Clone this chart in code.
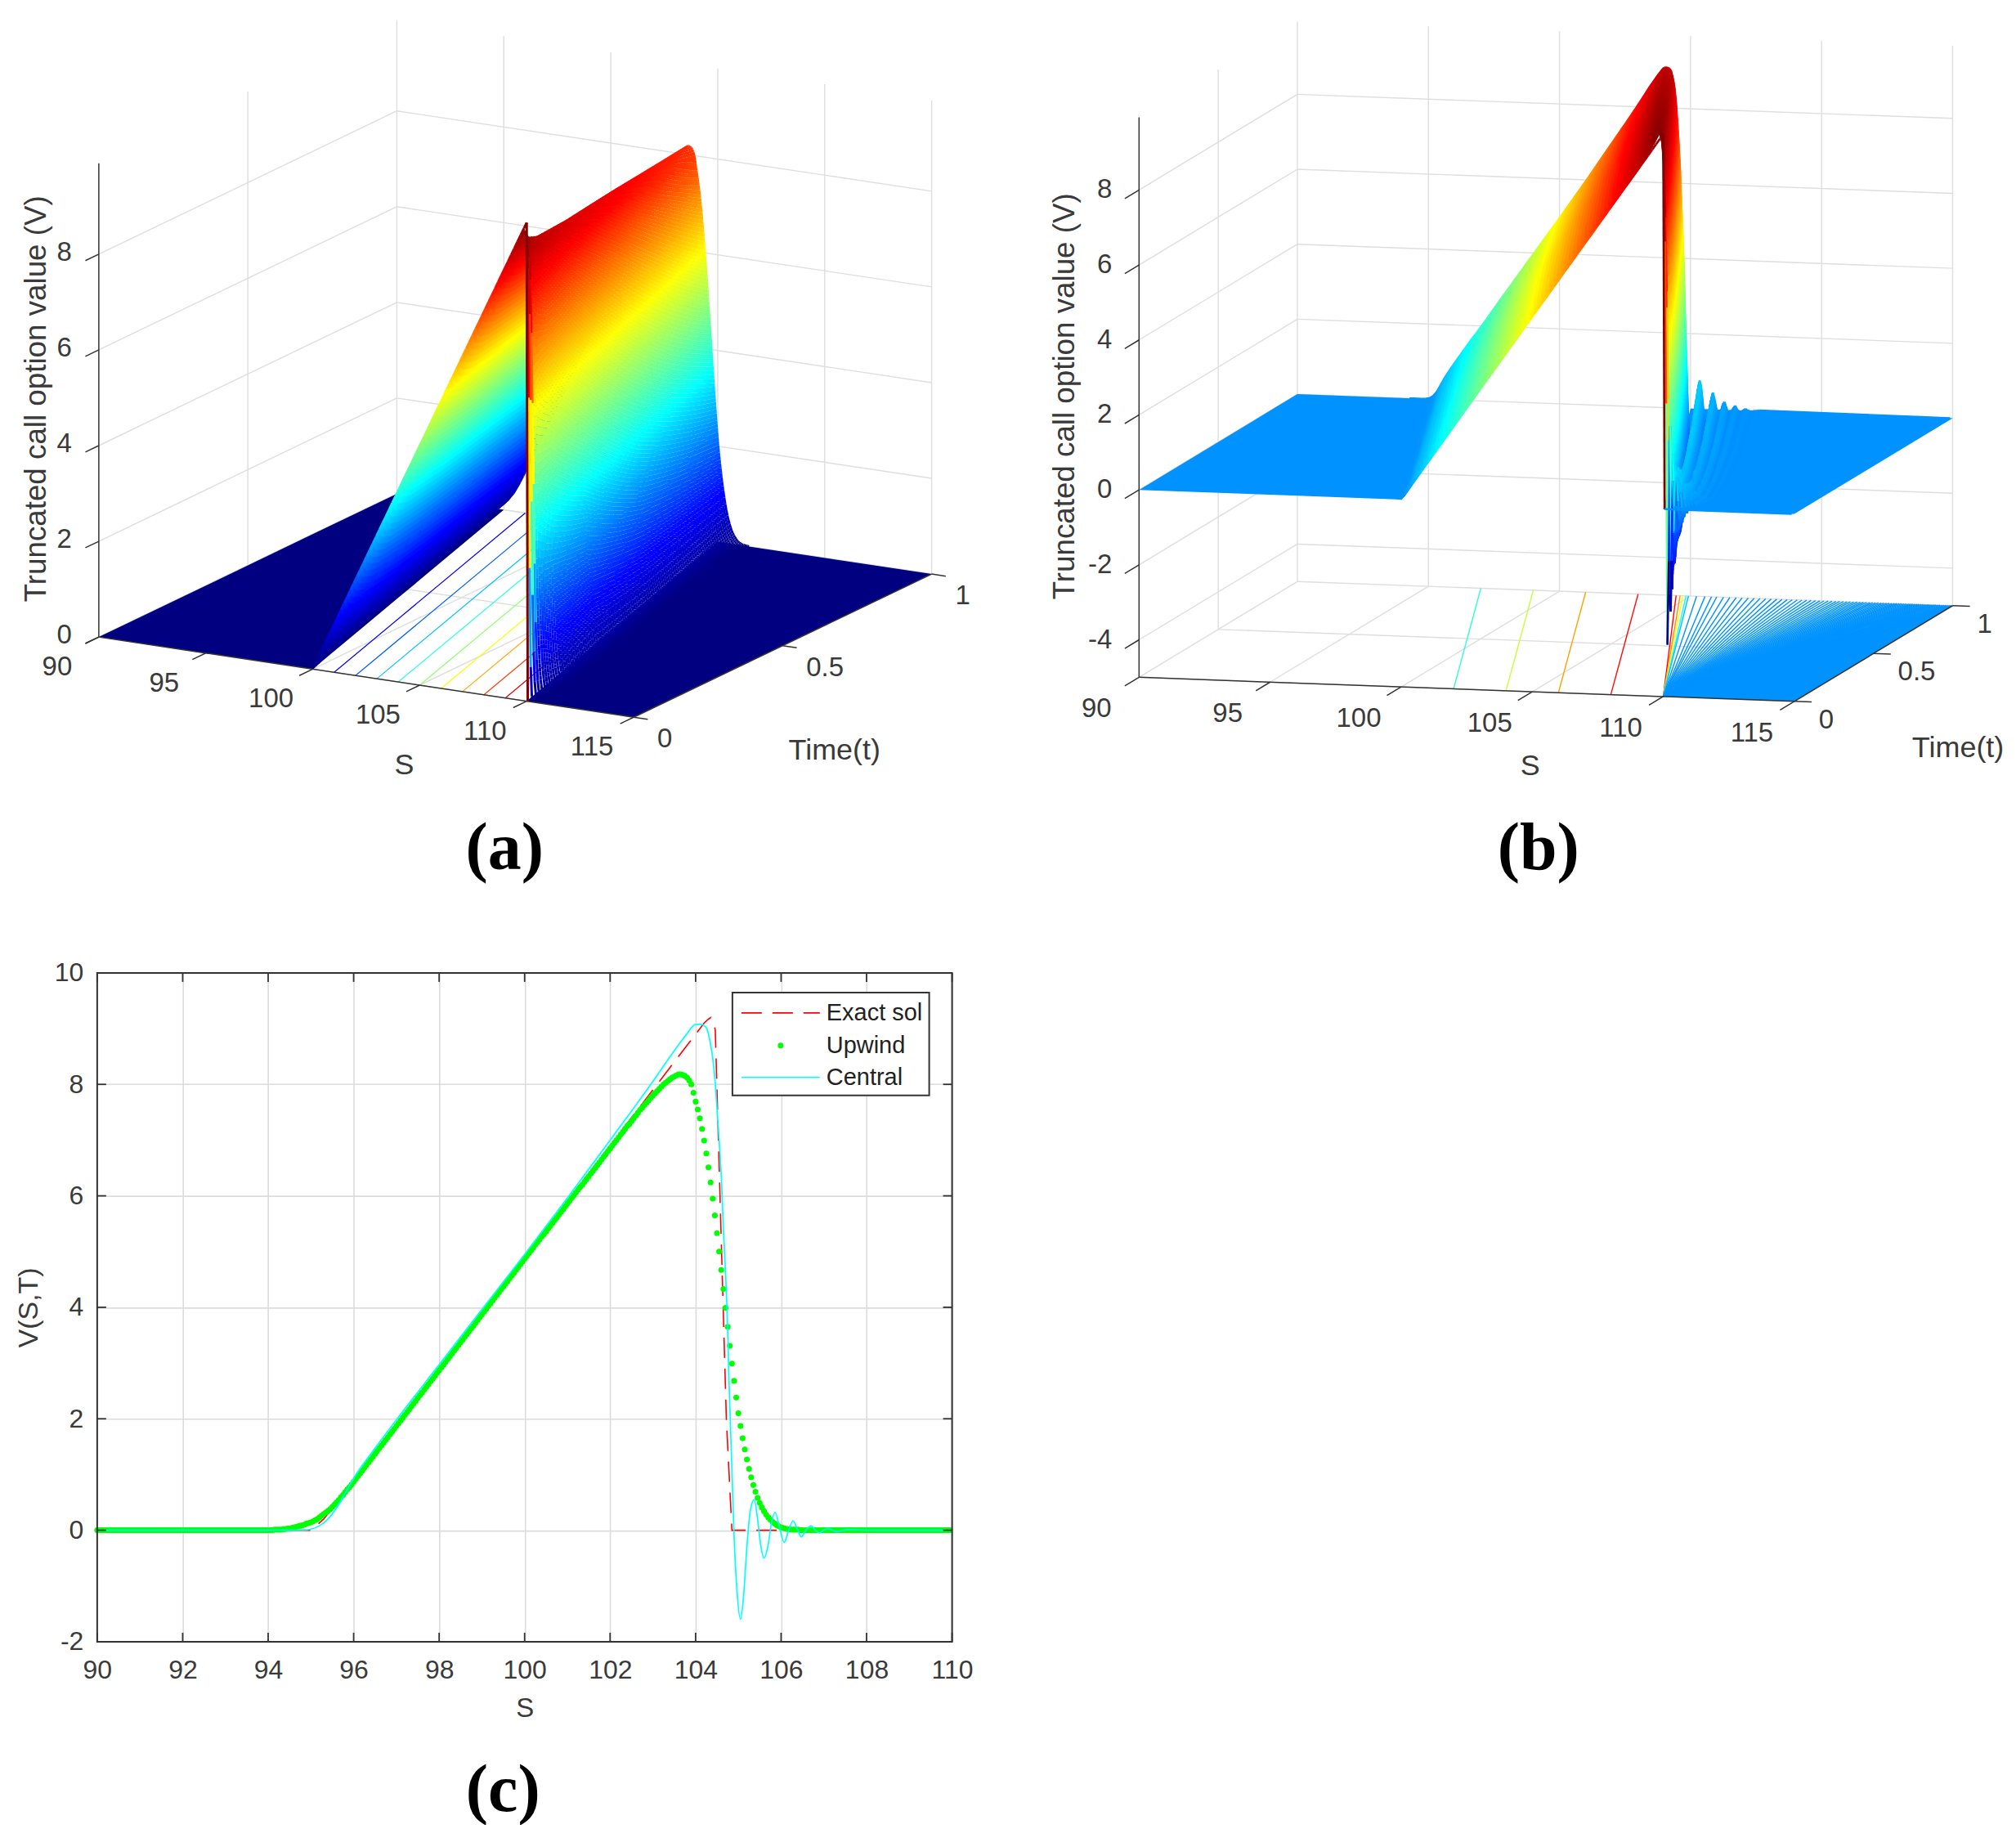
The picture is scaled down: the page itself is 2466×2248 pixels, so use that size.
import numpy as np, pandas as pd, altair as alt
alt.data_transformers.disable_max_rows()

# ---------- panel (c) curves ----------
UPWIND_S_START, UPWIND_S_STEP = 90.0, 0.05
UPWIND_V = [0.0]*80 + [
 .00,.00,.00,.01,.01,.01,.01,.02,.02,.03, .03,.04,.05,.06,.07,.08,.09,.10,.12,.13,
 .14,.16,.18,.20,.23,.26,.29,.32,.35,.38, .42,.46,.50,.54,.59,.63,.68,.73,.77,.82,
 .87,.92,.97,1.02,1.07,1.12,1.17,1.22,1.27,1.32, 1.37,1.42,1.47,1.52,1.57,1.62,1.67,1.72,1.77,1.82,
 1.87,1.92,1.97,2.02,2.07,2.12,2.17,2.22,2.27,2.32, 2.37,2.42,2.47,2.52,2.57,2.62,2.67,2.72,2.77,2.82,
 2.87,2.92,2.97,3.02,3.07,3.12,3.17,3.22,3.27,3.32, 3.37,3.42,3.47,3.52,3.57,3.62,3.67,3.72,3.77,3.82,
 3.87,3.92,3.97,4.02,4.07,4.12,4.17,4.22,4.27,4.32, 4.37,4.42,4.47,4.52,4.57,4.62,4.67,4.72,4.77,4.82,
 4.87,4.92,4.97,5.02,5.07,5.12,5.17,5.22,5.27,5.31, 5.36,5.41,5.46,5.51,5.56,5.61,5.66,5.71,5.76,5.81,
 5.86,5.91,5.96,6.01,6.06,6.11,6.16,6.20,6.25,6.30, 6.35,6.40,6.45,6.50,6.55,6.60,6.65,6.70,6.75,6.80,
 6.85,6.90,6.95,7.00,7.05,7.10,7.15,7.20,7.25,7.29, 7.34,7.39,7.44,7.49,7.54,7.58,7.63,7.67,7.71,7.76,
 7.80,7.84,7.88,7.92,7.96,8.00,8.03,8.06,8.09,8.12, 8.14,8.16,8.18,8.18,8.17,8.15,8.12,8.07,8.00,7.85,
 7.69,7.55,7.39,7.20,6.99,6.76,6.51,6.24,5.95,5.65, 5.33,5.00,4.67,4.33,3.99,3.65,3.31,2.99,2.68,2.38,
 2.10,1.87,1.65,1.45,1.27,1.10,.95,.81,.69,.58, .49,.41,.34,.28,.23,.19,.15,.12,.09,.07,
 .05,.04,.03,.02,.02,.01,.01,.01,.01,.00] + [0.0]*70
CENTRAL_S = [90,94.8,95.0,95.2,95.4,95.6,95.8,96,96.5,97,98,99,100,101,102,102.5,103,103.44,103.79,103.98,104.11,104.24,104.33,104.4,104.46,104.52,104.57,104.61,104.65,104.7,104.75,104.78,104.81,104.87,104.9,104.97,105.05,105.12,105.2,105.28,105.37,105.45,105.52,105.6,105.7,105.78,105.86,105.95,106.07,106.17,106.28,106.38,106.47,106.58,106.7,106.8,106.9,107.0,107.1,107.2,107.3,107.45,107.6,108,110]
CENTRAL_V = [0,0,.02,.08,.2,.4,.66,.93,1.47,1.98,2.97,3.96,4.95,5.96,7.0,7.52,8.05,8.54,8.9,9.07,9.08,9.03,8.8,8.48,8.02,7.34,6.77,6.2,5.41,4.63,3.6,2.7,2.0,.6,-.1,-1.1,-1.6,-1.2,-.3,.35,.55,.2,-.25,-.5,-.25,.15,.32,.1,-.22,-.02,.17,.02,-.12,0,.08,0,-.05,0,.03,0,-.02,0,.01,0,0]
EXACT_S = [90,95.0,95.3,104.2,104.3,104.36,104.42,104.46,104.72,104.85,105,110]
EXACT_V = [0,0,.2,9.1,9.17,9.2,9.1,8.98,1.98,0,0,0]
XTICKS_C = [90,92,94,96,98,100,102,104,106,108,110]
YTICKS_C = [-2,0,2,4,6,8,10]

# ---------- how the smoothing of the surfaces changes with time, estimated by eye ----------
T_TAB = [0,.01,.02,.05,.12,.3,.58,1]
WIDTH_A = [0,.1,.17,.3,.47,.62,.75,1]
WIDTH_B = [0,.25,.35,.5,.65,.78,.9,1]
AMP_B = [2.8,2.8,2.0,1.2,.8,.8,.9,1]
CORNER_X_T0, CORNER_X_T1 = 10.0, 9.36
CORNER_V_T0, CORNER_V_T1 = 10.0, 9.2
# floor traces in the picture
LINES_A_S0 = [101,102,103,104,105,106,107,108,109]
LINES_B_S0 = [102,104,106,108]
FAN_END_S = [104.45,104.6,104.7,104.83,104.92,105.23,105.55,105.8,106.0,106.26,106.5,106.74,106.97,107.2,107.43,107.65,107.87,108.08,108.29,108.49,108.69,108.88,109.07,109.25,109.43,109.6,109.77,109.93,110.09,110.25,110.4,110.55,110.69,110.83,110.97,111.1,111.23,111.36,111.48,111.6,111.72,111.84,111.95,112.06,112.17,112.28,112.38,112.48,112.58,112.68,112.78,112.87,112.96,113.05,113.14,113.23,113.32,113.4,113.48,113.56,113.64,113.72,113.8,113.88,113.96,114.04,114.12,114.2,114.28,114.36,114.44,114.52,114.6,114.68,114.76,114.84,114.92,115]
FAN_V = [8.1,6.3,4.6,1.6,.6]
Z_A = [0,2,4,6,8]
Z_B = [-4,-2,0,2,4,6,8]
S_TICKS = [90,95,100,105,110,115]
T_TICKS = [0,.5,1]

FONT = 'Liberation Sans'
TXT = '#3a3a3a'
GRID = '#dedede'
DARK = '#333333'

class View:
    def __init__(s, ox, oy, sx, sy, tx, ty, vz, vmin, vtop, vcmin, vcmax, tick):
        s.ox,s.oy,s.sx,s.sy,s.tx,s.ty,s.vz,s.vmin,s.vtop=ox,oy,sx,sy,tx,ty,vz,vmin,vtop
        s.vcmin,s.vcmax,s.tick=vcmin,vcmax,tick
    def xy(s,S,t,V):
        return (s.ox+s.sx*(S-90)+s.tx*t, s.oy+s.sy*(S-90)+s.ty*t-s.vz*(V-s.vmin))
    def c(s,V):
        return (V-s.vcmin)/(s.vcmax-s.vcmin)

A = View(118.0,778.7,26.2,3.93,365.0,-175.4,58.6,0.0,9.9,0.0,10.0,.045)
B = View(1392.0,828.0,32.1,1.18,193.9,-117.2,45.9,-5.0,9.94,-3.4,10.0,.09)

JET_D = [0,.11,.36,.61,.86,1]
JET_R = ['#000080','#0000ff','#00ffff','#ffff00','#ff0000','#800000']
def jet_hex(c):
    rgb=[np.interp(c,JET_D,[int(h[i:i+2],16) for h in JET_R]) for i in (1,3,5)]
    return '#%02x%02x%02x'%tuple(int(v) for v in rgb)

def surface(view, pS, pV, widths, amps, ramp_step, tail, foot_w):
    pS=np.array(pS,float); pV=np.array(pV,float)
    l_tab=pS-(95+CORNER_X_T1)
    xi_tab=pS-95
    l_end=l_tab[np.nonzero(np.abs(pV)>0.004)[0][-1]]
    l0=l_tab[(l_tab>0)&(pV<=0)][0]
    dinf=np.interp(-6.0,l_tab,pV)+6.0-CORNER_V_T1
    out=[]
    for k in range(100,-1,-1):
        t=k/100
        K=100-5*t
        w=np.interp(t,T_TAB,widths); amp=np.interp(t,T_TAB,amps)
        wf=w*foot_w
        xc=CORNER_X_T0+(CORNER_X_T1-CORNER_X_T0)*t
        vc=CORNER_V_T0+(CORNER_V_T1-CORNER_V_T0)*t
        a=vc/CORNER_V_T1
        Sc=K+xc
        g=90+.05*np.arange(0,501)
        S_start=K-1.2*max(wf,.02)
        S_w0=Sc-2.2*max(w,.02)
        S_w1=Sc+l_end*max(w,.02)+.05
        wall=g[(g>=S_w0)&(g<=S_w1)]
        ramp=np.arange(S_start,S_w0,ramp_step)
        nodes=np.concatenate([ramp,wall])
        V=np.zeros_like(nodes)
        for i,S in enumerate(nodes):
            xi=S-K
            if w==0:
                V[i]=max(xi,0) if S<=Sc+1e-9 else 0
                continue
            l=(xi-xc)/w
            if l>=0:
                u=np.interp(l,l_tab,pV)
                f=1.0
                if l>l0:
                    f=amp if u<0 else amp*1.5
                if amps[0]==1: f=1.0
                V[i]=a*u*f
            else:
                lc=max(l,-6.0)
                u=np.interp(lc,l_tab,pV)
                ridge=vc+(xi-xc)+a*(u-lc-CORNER_V_T1)-a*dinf*(1-min(t/.5,1))
                foot=wf*np.interp(xi/wf,xi_tab,pV)
                V[i]=foot if xi<3*wf else ridge
        for i in range(len(nodes)-1):
            dv=V[i+1]-V[i]
            n=1
            if t>=.04 and abs(dv)>.16:
                n=int(min(6,np.ceil(abs(dv)/.1)))
            for j in range(n):
                s0,s1=nodes[i]+(nodes[i+1]-nodes[i])*j/n,nodes[i]+(nodes[i+1]-nodes[i])*(j+1)/n
                v0,v1=V[i]+dv*j/n,V[i]+dv*(j+1)/n
                p=view.xy(s0,t,v0); q=view.xy(s1,t,v1)
                out.append((round(p[0],1),round(p[1],1),round(q[0],1),round(q[1],1),round(view.c(v0),3)))
        if tail:
            p=view.xy(nodes[-1],t,V[-1]); q=view.xy(114.9,t,0)
            out.append((round(p[0],1),round(p[1],1),round(q[0],1),round(q[1],1),round(view.c(0),3)))
    return pd.DataFrame(out,columns=['x','y','x2','y2','c'])

def grid_df(view, zs):
    r=[]
    bot=view.vmin; top=view.vtop
    def seg(a,b):
        p=view.xy(*a); q=view.xy(*b); r.append((p[0],p[1],q[0],q[1]))
    for S in S_TICKS:
        if S>90: seg((S,1,bot),(S,1,top))
        seg((S,0,bot),(S,1,bot))
    for t in T_TICKS:
        if t>0: seg((90,t,bot),(90,t,top))
        seg((90,t,bot),(115,t,bot))
    for z in zs:
        seg((90,0,z),(90,1,z)); seg((90,1,z),(115,1,z))
    return pd.DataFrame(r,columns=['x','y','x2','y2'])

def axes_df(view, zs):
    r=[]
    def seg(a,b):
        p=view.xy(*a); q=view.xy(*b); r.append((p[0],p[1],q[0],q[1]))
    v=view.vmin
    seg((90,0,v),(115,0,v)); seg((115,0,v),(115,1,v)); seg((90,0,v),(90,0,view.vtop))
    for S in S_TICKS: seg((S,0,v),(S,-view.tick,v))
    for t in T_TICKS: seg((115,t,v),(115.66,t,v))
    for z in zs: seg((90,0,z),(90,-view.tick,z))
    return pd.DataFrame(r,columns=['x','y','x2','y2'])

def poly_df(view, pts):
    P=[view.xy(*p) for p in pts]
    xs=sorted(set(round(p[0],3) for p in P))
    rows=[]
    n=len(P)
    for x0 in xs:
        ys=[]
        for i in range(n):
            a,b=P[i],P[(i+1)%n]
            lo,hi=min(a[0],b[0]),max(a[0],b[0])
            if lo-1e-3<=x0<=hi+1e-3:
                if abs(a[0]-b[0])<1e-6: ys+= [a[1],b[1]]
                else: ys.append(a[1]+(b[1]-a[1])*(x0-a[0])/(b[0]-a[0]))
        rows.append((x0,min(ys),max(ys)))
    return pd.DataFrame(rows,columns=['x','y','y2'])

X=alt.X('x:Q',scale=alt.Scale(domain=[8,2458],nice=False,zero=False),axis=None)
Y=alt.Y('y:Q',scale=alt.Scale(domain=[1108,8],nice=False,zero=False),axis=None)
X2=alt.X2('x2:Q'); Y2=alt.Y2('y2:Q')
CS=alt.Scale(domain=JET_D,range=JET_R,interpolate='rgb',clamp=True)

def rules(df,**kw):
    return alt.Chart(df).mark_rule(**kw).encode(x=X,y=Y,x2=X2,y2=Y2)
def crules(df,w):
    return alt.Chart(df).mark_rule(strokeWidth=w).encode(x=X,y=Y,x2=X2,y2=Y2,color=alt.Color('c:Q',scale=CS,legend=None))
def area(df,col):
    return alt.Chart(df).mark_area(color=col,opacity=1).encode(x=X,y=Y,y2=Y2)
def texts(df,size=33,align='center',angle=0,font=FONT,weight='normal',col=TXT):
    return alt.Chart(df).mark_text(align=align,baseline='middle',fontSize=size,font=font,fontWeight=weight,angle=angle,color=col).encode(x=X,y=Y,text='t:N')

# ---------- panel a ----------
a_grid=rules(grid_df(A,Z_A),color=GRID,strokeWidth=1.4)
lines=[]
for S0 in LINES_A_S0:
    p=A.xy(S0,0,0); q=A.xy(S0-5,1,0)
    lines.append((p[0],p[1],q[0],q[1],A.c(S0-100)))
a_lines=crules(pd.DataFrame(lines,columns=['x','y','x2','y2','c']),1.2)
a_f1=area(poly_df(A,[(90,0,0),(100,0,0),(95,1,0),(90,1,0)]),'#000080')
a_f2=area(poly_df(A,[(110,0,0),(115,0,0),(115,1,0),(105,1,0)]),'#000080')
up_s=[UPWIND_S_START+UPWIND_S_STEP*i for i in range(len(UPWIND_V))]
a_surf=crules(surface(A,up_s,UPWIND_V,WIDTH_A,[1]*8,.15,False,1.0),3)
a_axes=rules(axes_df(A,Z_A),color=DARK,strokeWidth=1.5)

# ---------- panel b ----------
b_grid=rules(grid_df(B,Z_B),color=GRID,strokeWidth=1.4)
v=B.vmin
lines=[]
for S0 in LINES_B_S0:
    p=B.xy(S0,0,v); q=B.xy(S0-5,1,v)
    lines.append((p[0],p[1],q[0],q[1],B.c(S0-100)))
fv=FAN_V+[0]*(len(FAN_END_S)-len(FAN_V))
for S1,V1 in zip(FAN_END_S,fv):
    p=B.xy(110,0,v); q=B.xy(S1,1,v)
    lines.append((p[0],p[1],q[0],q[1],B.c(V1)))
b_lines=crules(pd.DataFrame(lines,columns=['x','y','x2','y2','c']),1.4)
BLUE=jet_hex(B.c(0))
b_tri=area(poly_df(B,[(110,0,v),(115,0,v),(115,1,v)]),BLUE)
b_f1=area(poly_df(B,[(90,0,0),(100,0,0),(95,1,0),(90,1,0)]),BLUE)
b_f2=area(poly_df(B,[(110,0,0),(115,0,0),(115,1,0),(105,1,0)]),BLUE)
b_surf=crules(surface(B,CENTRAL_S,CENTRAL_V,WIDTH_B,AMP_B,.15,True,.6),2.6)
b_axes=rules(axes_df(B,Z_B),color=DARK,strokeWidth=1.5)

# ---------- 3-D tick labels ----------
def zlabels(view,zs,dx,dy=0):
    return pd.DataFrame([dict(x=view.xy(90,0,z)[0]+dx,y=view.xy(90,0,z)[1]+dy,t=str(z)) for z in zs])
def slabels(view,dx,dy):
    return pd.DataFrame([dict(x=view.xy(S,0,view.vmin)[0]+dx,y=view.xy(S,0,view.vmin)[1]+dy,t=str(S)) for S in S_TICKS])
def tlabels(view,dx,dy):
    return pd.DataFrame([dict(x=view.xy(115,t,view.vmin)[0]+dx,y=view.xy(115,t,view.vmin)[1]+dy,t=('%g'%t)) for t in T_TICKS])

tx=[texts(zlabels(A,Z_A,-33,-2),align='right'),texts(slabels(A,-51,37)),texts(tlabels(A,29,27),align='left'),
    texts(zlabels(B,Z_B,-33),align='right'),texts(slabels(B,-52,39)),texts(tlabels(B,30,23),align='left'),
    texts(pd.DataFrame([dict(x=492,y=936,t='S'),dict(x=1019,y=918,t='Time(t)'),dict(x=1871,y=937,t='S'),dict(x=2395,y=915,t='Time(t)')]),size=36),
    texts(pd.DataFrame([dict(x=42,y=487,t='Truncated call option value (V)'),dict(x=1302,y=484,t='Truncated call option value (V)')]),size=36.8,angle=270),
    texts(pd.DataFrame([dict(x=615,y=1038,t='(a)'),dict(x=1881,y=1038,t='(b)')]),size=82,font='Liberation Serif',weight='bold',col='#000000')]

top=alt.layer(a_grid,a_lines,a_f1,a_f2,a_surf,a_axes,b_grid,b_lines,b_tri,b_f1,b_f2,b_surf,b_axes,*tx).properties(width=2450,height=1100)

# ---------- panel c ----------
W,H=1047,819
xc=alt.X('S:Q',scale=alt.Scale(domain=[90,110],nice=False,zero=False),
   axis=alt.Axis(values=XTICKS_C,grid=True,gridColor='#dcdcdc',gridWidth=1.6,ticks=False,domain=False,labelFlush=False,labelFont=FONT,labelFontSize=32,labelColor=TXT,labelPadding=20,format='d',title='S',titleFont=FONT,titleFontSize=33,titleFontWeight='normal',titleColor=TXT,titlePadding=15))
yc=alt.Y('V:Q',scale=alt.Scale(domain=[-2,10],nice=False,zero=False),
   axis=alt.Axis(values=YTICKS_C,grid=True,gridColor='#dcdcdc',gridWidth=1.6,ticks=False,domain=False,labelFlush=False,labelFont=FONT,labelFontSize=32,labelColor=TXT,labelPadding=17,labelExpr="''+datum.value",title='V(S,T)',titleFont=FONT,titleFontSize=34,titleFontWeight='normal',titleColor=TXT,titlePadding=14))
ex=alt.Chart(pd.DataFrame({'S':EXACT_S,'V':EXACT_V})).mark_line(color='#ff0000',strokeWidth=1.6,strokeDash=[25,13],strokeDashOffset=30).encode(x=xc,y=yc)
up=alt.Chart(pd.DataFrame({'S':up_s,'V':UPWIND_V})).mark_circle(color='#00ff00',size=50,opacity=1).encode(x='S:Q',y='V:Q')
ce=alt.Chart(pd.DataFrame({'S':CENTRAL_S,'V':CENTRAL_V})).mark_line(color='#00ffff',strokeWidth=1.7,interpolate='monotone').encode(x='S:Q',y='V:Q')
TK=dict(color=DARK,strokeWidth=1.8)
tk=[alt.Chart(pd.DataFrame({'S':XTICKS_C})).mark_rule(**TK).encode(x='S:Q',y=alt.value(H),y2=alt.value(H-11)),
    alt.Chart(pd.DataFrame({'S':XTICKS_C})).mark_rule(**TK).encode(x='S:Q',y=alt.value(0),y2=alt.value(11)),
    alt.Chart(pd.DataFrame({'V':YTICKS_C})).mark_rule(**TK).encode(y='V:Q',x=alt.value(0),x2=alt.value(11)),
    alt.Chart(pd.DataFrame({'V':YTICKS_C})).mark_rule(**TK).encode(y='V:Q',x=alt.value(W),x2=alt.value(W-11))]
one=pd.DataFrame({'a':[0]})
frame=alt.Chart(one).mark_rect(fillOpacity=0,stroke=DARK,strokeWidth=2).encode(x=alt.value(0),x2=alt.value(W),y=alt.value(0),y2=alt.value(H))
legbox=alt.Chart(one).mark_rect(fill='white',stroke=DARK,strokeWidth=2).encode(x=alt.value(778),x2=alt.value(1019),y=alt.value(24),y2=alt.value(150))
def ltext(t,y):
    return alt.Chart(one).mark_text(text=t,align='left',baseline='middle',font=FONT,fontSize=29,color='#222222').encode(x=alt.value(893),y=alt.value(y))
leg=[legbox,
 alt.Chart(one).mark_rule(color='#ff0000',strokeWidth=1.6,strokeDash=[25,13]).encode(x=alt.value(789),x2=alt.value(885),y=alt.value(49)),
 alt.Chart(one).mark_circle(color='#00ff00',size=50,opacity=1).encode(x=alt.value(837),y=alt.value(89)),
 alt.Chart(one).mark_rule(color='#00ffff',strokeWidth=1.7).encode(x=alt.value(789),x2=alt.value(885),y=alt.value(128)),
 ltext('Exact sol',49),ltext('Upwind',89),ltext('Central',128)]
cap=alt.Chart(one).mark_text(text='(c)',align='center',baseline='middle',font='Liberation Serif',fontWeight='bold',fontSize=82,color='#000000').encode(x=alt.value(497),y=alt.value(1001))
cchart=alt.layer(ex,up,ce,*tk,frame,*leg,cap).properties(width=W,height=H)
spacer=alt.Chart(one).mark_point(opacity=0).encode(x=alt.value(0),y=alt.value(0)).properties(width=7,height=10)

chart=alt.vconcat(top,alt.hconcat(spacer,cchart,spacing=0),spacing=66).properties(padding=0,background='white').configure_view(stroke=None)
chart.save("out.html", embed_options={"renderer":"svg","actions":False})
